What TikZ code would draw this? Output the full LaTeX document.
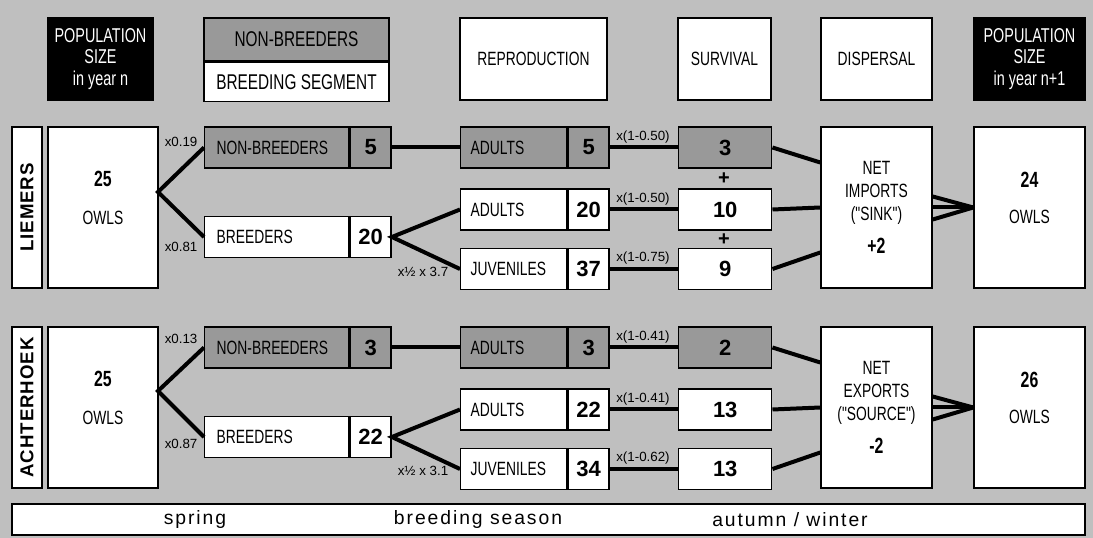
\documentclass[tikz,border=0pt]{standalone}
\usepackage{fontspec}
\setmainfont{Liberation Sans}
\newfontfamily\narrowfam{Liberation Sans}[FakeStretch=0.72]
\newfontfamily\widefam{Liberation Sans}[LetterSpace=5]
\newfontfamily\seasonfam{Liberation Sans}[LetterSpace=10]
\usepackage{xcolor}
\usetikzlibrary{positioning,calc}

\definecolor{bggray}{gray}{0.75}
\definecolor{nbgray}{gray}{0.60}
\newcommand{\boxfont}{\narrowfam\fontsize{14.4}{17}\selectfont}
\newcommand{\numfont}{\bfseries\fontsize{16.5}{18}\selectfont}

\begin{document}
\begin{tikzpicture}[
    x=0.75pt, y=-0.75pt,
    box/.style={draw, line width=1.1pt, fill=white, inner sep=0pt, font=\boxfont, align=center},
    head/.style={box, minimum height=61.5pt},
    dark/.style={box, fill=black, text=white},
    seg/.style={box, minimum height=30.75pt, text width=90pt, inner xsep=9pt, align=left, anchor=west},
    repseg/.style={box, minimum height=30.75pt, text width=64.5pt, inner xsep=7.5pt, align=left, anchor=west},
    num/.style={box, minimum height=30.75pt, minimum width=30.75pt, font=\numfont},
    surv/.style={box, minimum height=30.75pt, minimum width=69.75pt, font=\numfont, anchor=west},
    tall/.style={box, minimum height=120.75pt, minimum width=83.25pt},
    namebox/.style={box, minimum width=120.75pt, minimum height=22.5pt, rotate=90, font=\widefam\bfseries\fontsize{14}{16}\selectfont},
    nb/.style={fill=nbgray},
    rate/.style={font=\fontsize{10}{12}\selectfont, inner sep=1pt},
    plus/.style={font=\bfseries\fontsize{15}{15}\selectfont, inner sep=0pt},
    season/.style={font=\seasonfam\fontsize{14.5}{16}\selectfont},
    link/.style={line width=3pt}
]
    \useasboundingbox (0,0) rectangle (1093,538);
    \fill[bggray] (0,0) rectangle (1093,538);

    % header
    \node[head, dark, minimum width=78.75pt, font=\narrowfam\fontsize{15}{16}\selectfont] (hpop0) at (100.5,59) {POPULATION\\SIZE\\in year n};
    \node[box, nb, minimum width=138.75pt, minimum height=32.25pt, font=\narrowfam\fontsize{16}{18}\selectfont] (hkeynb) at (296.5,39.5) {NON-BREEDERS};
    \node[box, minimum width=138.75pt, minimum height=29.25pt, font=\narrowfam\fontsize{16}{18}\selectfont, below=0pt of hkeynb] (hkeybr) {BREEDING SEGMENT};
    \node[head, minimum width=110.25pt] (hrep) at (533.5,59) {REPRODUCTION};
    \node[head, minimum width=69.75pt] (hsurv) at (724.5,59) {SURVIVAL};
    \node[head, minimum width=83.25pt] (hdisp) at (876.5,59) {DISPERSAL};
    \node[head, dark, minimum width=83.25pt, font=\narrowfam\fontsize{15}{16}\selectfont] (hpop1) at (1029.5,59) {POPULATION\\SIZE\\in year n+1};

    % Liemers
    \node[namebox] (lname) at (27,207.5) {LIEMERS};
    \node[tall, minimum width=82.5pt] (lowls) at (103,207.5) {};
    \node[font=\boxfont, align=center] (lowlst) at (103,198) {{\numfont 25}\\[11pt]OWLS};
    \node[seg, nb] (lnb) at (204,147.5) {NON-BREEDERS};
    \node[num, nb, right=0pt of lnb] (lnbn) {5};
    \node[seg] (lbr) at (204,237) {BREEDERS};
    \node[num, right=0pt of lbr] (lbrn) {20};
    \node[repseg, nb] (lad0) at (460,147.5) {ADULTS};
    \node[num, nb, right=0pt of lad0] (lad0n) {5};
    \node[repseg] (lad) at (460,209.5) {ADULTS};
    \node[num, right=0pt of lad] (ladn) {20};
    \node[repseg] (ljuv) at (460,269) {JUVENILES};
    \node[num, right=0pt of ljuv] (ljuvn) {37};
    \node[surv, nb] (ls0) at (678,147.5) {3};
    \node[surv] (ls1) at (678,209.5) {10};
    \node[surv] (ls2) at (678,269) {9};
    \node[plus] (lplus1) at (724,179) {+};
    \node[plus] (lplus2) at (724,239.5) {+};
    \node[tall] (ldisp) at (876.5,207.5) {NET\\IMPORTS\\("SINK")\\[8pt]{\numfont +2}};
    \node[tall] (lpop) at (1029.5,207.5) {};
    \node[font=\boxfont, align=center] (lpopt) at (1029.5,197.5) {{\numfont 24}\\[10pt]OWLS};

    \node[rate, anchor=east] (lfnb) at (199,142) {x0.19};
    \node[rate, anchor=east] (lfbr) at (199,247) {x0.81};
    \node[rate] (lfjuv) at (423,272) {x½ x 3.7};
    \node[rate] (lsr0) at (643,137) {x(1-0.50)};
    \node[rate] (lsr1) at (643,199) {x(1-0.50)};
    \node[rate] (lsr2) at (643,258) {x(1-0.75)};

    \coordinate (lfork) at (158,192);
    \draw[link] (lnb.west) -- (lfork) -- (lbr.west);
    \draw[link] (lnbn.east) -- (lad0.west);
    \draw[link] (lad.west) -- (lbrn.east) -- (ljuv.west);
    \draw[link] (lad0n.east) -- (ls0.west);
    \draw[link] (ladn.east) -- (ls1.west);
    \draw[link] (ljuvn.east) -- (ls2.west);
    \draw[link] (ls0.east) -- ($(ldisp.west)+(0,-45)$);
    \draw[link] (ls1.east) -- (ldisp.west);
    \draw[link] (ls2.east) -- ($(ldisp.west)+(0,45)$);
    \draw[link] ($(ldisp.east)+(0,-11)$) -- (lpop.west);
    \draw[link] (ldisp.east) -- (lpop.west);
    \draw[link] ($(ldisp.east)+(0,12)$) -- (lpop.west);

    % Achterhoek
    \node[namebox] (aname) at (27,407.5) {ACHTERHOEK};
    \node[tall, minimum width=82.5pt] (aowls) at (103,407.5) {};
    \node[font=\boxfont, align=center] (aowlst) at (103,398) {{\numfont 25}\\[11pt]OWLS};
    \node[seg, nb] (anb) at (204,347.5) {NON-BREEDERS};
    \node[num, nb, right=0pt of anb] (anbn) {3};
    \node[seg] (abr) at (204,437) {BREEDERS};
    \node[num, right=0pt of abr] (abrn) {22};
    \node[repseg, nb] (aad0) at (460,347.5) {ADULTS};
    \node[num, nb, right=0pt of aad0] (aad0n) {3};
    \node[repseg] (aad) at (460,409.5) {ADULTS};
    \node[num, right=0pt of aad] (aadn) {22};
    \node[repseg] (ajuv) at (460,469) {JUVENILES};
    \node[num, right=0pt of ajuv] (ajuvn) {34};
    \node[surv, nb] (as0) at (678,347.5) {2};
    \node[surv] (as1) at (678,409.5) {13};
    \node[surv] (as2) at (678,469) {13};
    \node[tall] (adisp) at (876.5,407.5) {NET\\EXPORTS\\("SOURCE")\\[8pt]{\numfont -2}};
    \node[tall] (apop) at (1029.5,407.5) {};
    \node[font=\boxfont, align=center] (apopt) at (1029.5,397.5) {{\numfont 26}\\[10pt]OWLS};

    \node[rate, anchor=east] (afnb) at (199,339) {x0.13};
    \node[rate, anchor=east] (afbr) at (199,444) {x0.87};
    \node[rate] (afjuv) at (423,471) {x½ x 3.1};
    \node[rate] (asr0) at (643,337) {x(1-0.41)};
    \node[rate] (asr1) at (643,399) {x(1-0.41)};
    \node[rate] (asr2) at (643,458) {x(1-0.62)};

    \coordinate (afork) at (158,391);
    \draw[link] (anb.west) -- (afork) -- (abr.west);
    \draw[link] (anbn.east) -- (aad0.west);
    \draw[link] (aad.west) -- (abrn.east) -- (ajuv.west);
    \draw[link] (aad0n.east) -- (as0.west);
    \draw[link] (aadn.east) -- (as1.west);
    \draw[link] (ajuvn.east) -- (as2.west);
    \draw[link] (as0.east) -- ($(adisp.west)+(0,-45)$);
    \draw[link] (as1.east) -- (adisp.west);
    \draw[link] (as2.east) -- ($(adisp.west)+(0,45)$);
    \draw[link] ($(adisp.east)+(0,-11)$) -- (apop.west);
    \draw[link] (adisp.east) -- (apop.west);
    \draw[link] ($(adisp.east)+(0,12)$) -- (apop.west);

    % seasons
    \node[box, minimum width=804.75pt, minimum height=23.25pt] (seasons) at (548.5,519.5) {};
    \node[season] (spring) at (195,519.5) {spring};
    \node[season] (breeding) at (478,519.5) {breeding season};
    \node[season] (autumn) at (790,519.5) {autumn / winter};
\end{tikzpicture}
\end{document}
